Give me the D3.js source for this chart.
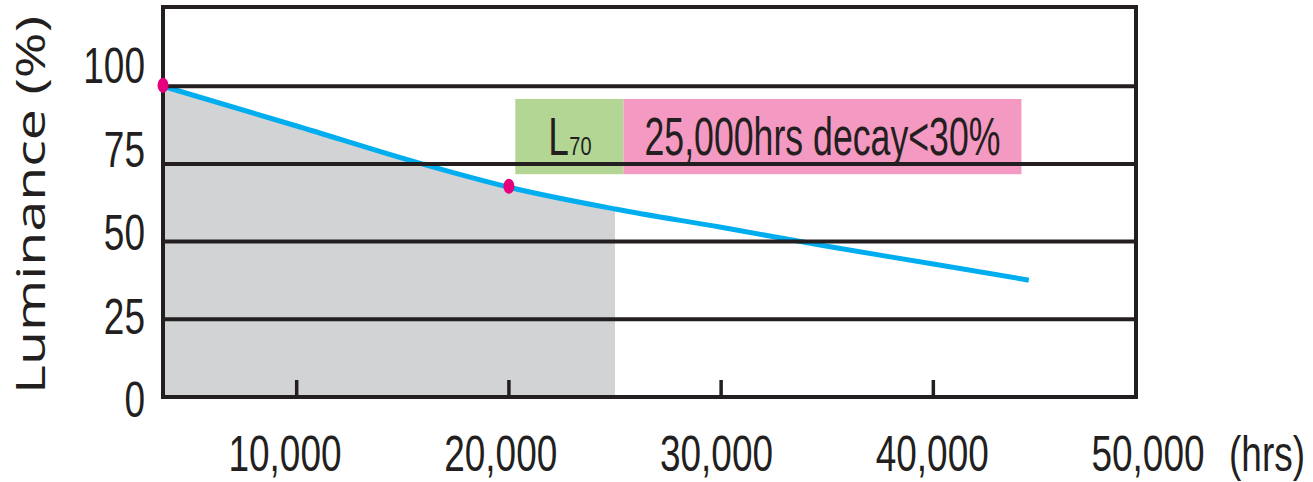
<!DOCTYPE html>
<html>
<head>
<meta charset="utf-8">
<script src="https://cdn.jsdelivr.net/npm/d3@7"></script>
<style>
  body { margin: 0; background: #fff; }
  svg text { fill: #231f20; font-family: "Liberation Sans Narrow", "Liberation Sans", sans-serif; }
</style>
</head>
<body>
<svg id="chart" width="1313" height="482"></svg>
<script>
// luminance decay curve
const hours = [3700, 10000, 15900, 20000, 25000, 30000, 35000, 40000, 44500];
const luminance = [100, 87.2, 75, 67.5, 60.5, 54.6, 48.5, 42.8, 37.6];
const markHours = [3700, 20000];
const markLuminance = [100, 67.5];
const shadeEnd = 25000;

const yTicks = [0, 25, 50, 75, 100];
const xTicks = [10000, 20000, 30000, 40000];
const xLabelValues = [10000, 20000, 30000, 40000, 50000];
const xLabels = ["10,000", "20,000", "30,000", "40,000", "50,000"];

const boxHours = [20300, 25400, 44150];
const boxLum = [71.7, 95.9];
const boxText = ["L", "70", "25,000hrs decay<30%"];

var svg = d3.select("#chart");

var x = d3.scaleLinear().domain([3700, 49550]).range([163, 1136]);
var y = d3.scaleLinear().domain([0, 125.5]).range([397, 7]);
// labels in the picture sit on their own spacing
var yLab = d3.scaleLinear().domain([0, 100]).range([417, 83]);
var xLab = d3.scaleLinear().domain([10000, 50000]).range([285, 1148]);

var pts = hours.map(function (h, i) { return [h, luminance[i]]; });

svg.append("clipPath").attr("id", "shade")
   .append("rect")
   .attr("x", x.range()[0]).attr("y", 0)
   .attr("width", x(shadeEnd) - x.range()[0]).attr("height", y(0));

svg.append("path")
   .datum(pts)
   .attr("clip-path", "url(#shade)")
   .attr("fill", "#d1d3d4")
   .attr("d", d3.area().x(d => x(d[0])).y0(y(0)).y1(d => y(d[1])).curve(d3.curveMonotoneX));

// annotation boxes
svg.append("rect")
   .attr("x", x(boxHours[0])).attr("y", y(boxLum[1]))
   .attr("width", x(boxHours[1]) - x(boxHours[0])).attr("height", y(boxLum[0]) - y(boxLum[1]))
   .attr("fill", "#b4d694");
svg.append("rect")
   .attr("x", x(boxHours[1])).attr("y", y(boxLum[1]))
   .attr("width", x(boxHours[2]) - x(boxHours[1])).attr("height", y(boxLum[0]) - y(boxLum[1]))
   .attr("fill", "#f499c1");

svg.append("path")
   .datum(pts)
   .attr("fill", "none")
   .attr("stroke", "#00aeef")
   .attr("stroke-width", 5)
   .attr("d", d3.line().x(d => x(d[0])).y(d => y(d[1])).curve(d3.curveMonotoneX));

// gridlines
svg.selectAll(".grid")
   .data(yTicks.filter(v => v > 0))
   .enter().append("line")
   .attr("x1", x.range()[0]).attr("x2", x.range()[1])
   .attr("y1", d => y(d)).attr("y2", d => y(d))
   .attr("stroke", "#231f20").attr("stroke-width", 4);

svg.append("rect")
   .attr("x", x.range()[0]).attr("y", y.range()[1])
   .attr("width", x.range()[1] - x.range()[0]).attr("height", y(0) - y.range()[1])
   .attr("fill", "none").attr("stroke", "#231f20").attr("stroke-width", 4);

svg.selectAll(".tick")
   .data(xTicks)
   .enter().append("line")
   .attr("x1", d => x(d)).attr("x2", d => x(d))
   .attr("y1", y(0)).attr("y2", y(0) - 17)
   .attr("stroke", "#231f20").attr("stroke-width", 3.5);

svg.selectAll(".mark")
   .data(markHours)
   .enter().append("ellipse")
   .attr("cx", d => x(d)).attr("cy", (d, i) => y(markLuminance[i]) - 1)
   .attr("rx", 5.5).attr("ry", 7.5)
   .attr("fill", "#e6007e");

// tick labels
svg.selectAll(".ylab")
   .data(yTicks)
   .enter().append("text")
   .attr("transform", d => "translate(145," + yLab(d) + ") scale(0.74,1)")
   .attr("text-anchor", "end")
   .attr("font-size", 50)
   .text(d => d);

svg.selectAll(".xlab")
   .data(xLabelValues)
   .enter().append("text")
   .attr("transform", d => "translate(" + xLab(d) + ",471) scale(0.74,1)")
   .attr("text-anchor", "middle")
   .attr("font-size", 50)
   .text((d, i) => xLabels[i]);

svg.append("text")
   .attr("transform", "translate(1229,471) scale(0.74,1)")
   .attr("font-size", 50)
   .text("(hrs)");

svg.append("text")
   .attr("transform", "translate(45,205) rotate(-90)")
   .attr("text-anchor", "middle")
   .attr("font-size", 40)
   .attr("textLength", 378)
   .attr("lengthAdjust", "spacingAndGlyphs")
   .style("font-family", "'Open Sans', 'DejaVu Sans', sans-serif")
   .text("Luminance (%)");

// box labels
svg.append("text")
   .attr("transform", "translate(" + (x(boxHours[0]) + 33) + ",155) scale(0.7,1)")
   .attr("font-size", 53)
   .text(boxText[0]);
svg.append("text")
   .attr("transform", "translate(" + (x(boxHours[0]) + 54) + ",155) scale(0.8,1)")
   .attr("font-size", 25)
   .text(boxText[1]);
svg.append("text")
   .attr("x", x(boxHours[1]) + 21).attr("y", 155)
   .attr("font-size", 53)
   .attr("textLength", 356)
   .attr("lengthAdjust", "spacingAndGlyphs")
   .text(boxText[2]);
</script>
</body>
</html>
